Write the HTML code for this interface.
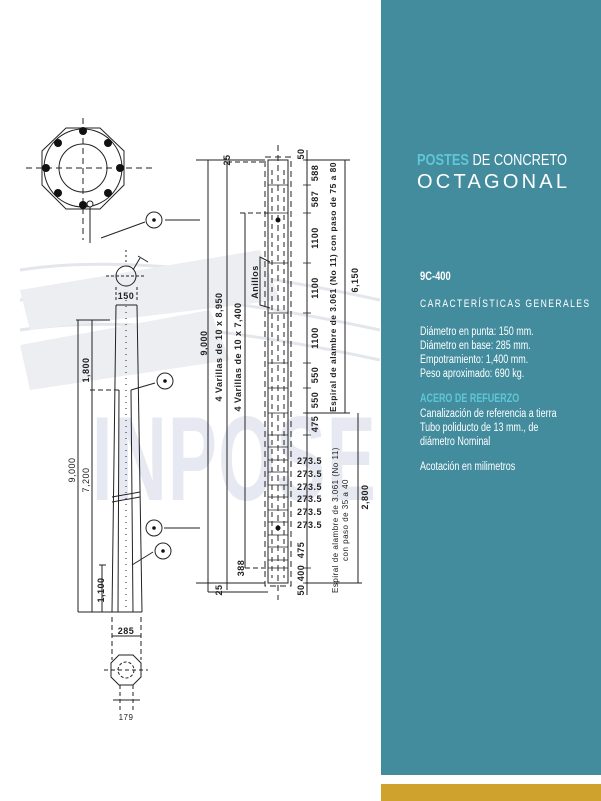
<!DOCTYPE html>
<html><head><meta charset="utf-8"><style>
html,body{margin:0;padding:0;background:#fff;}
body{width:601px;height:801px;position:relative;overflow:hidden;font-family:"Liberation Sans",sans-serif;}
.panel{position:absolute;left:381px;top:0;width:220px;height:775px;background:#438c9e;}
.gold{position:absolute;left:381px;top:784px;width:220px;height:17px;background:#cfa22e;}
.t{position:absolute;color:#fff;font-family:"Liberation Sans",sans-serif;white-space:nowrap;transform-origin:0 0;transform:scaleX(0.78);}
</style></head><body>
<svg width="601" height="801" style="position:absolute;left:0;top:0" font-family="Liberation Sans, sans-serif">
<g fill="#e6e9f1">
<text x="92" y="500" font-size="120" font-weight="bold" letter-spacing="2" textLength="285" lengthAdjust="spacingAndGlyphs">INPOSE</text>
</g>
<g stroke="#dde0e6" stroke-width="3" fill="none" opacity="0.8">
<path d="M20 270 Q150 250 380 300"/><path d="M20 300 Q150 280 380 330"/><path d="M20 330 Q150 310 380 360"/>
</g>
<g fill="#eceef2"><polygon points="20,290 260,250 280,300 30,330"/><polygon points="20,345 210,310 230,360 30,390"/></g>
<g stroke="#222" fill="none" stroke-width="1">
<polygon points="66,128 100,128 124,151 124,185 100,209 66,209 42,185 42,151"/>
<circle cx="83" cy="168" r="39"/>
<circle cx="83" cy="168" r="24"/>
<line x1="26" y1="168" x2="152" y2="168" stroke-dasharray="6,4"/>
<line x1="83" y1="118" x2="83" y2="240" stroke-dasharray="6,4"/>
<line x1="90" y1="206" x2="90" y2="243"/>
<line x1="101" y1="238" x2="145" y2="222"/>
<circle cx="154" cy="220" r="8"/>
<line x1="200" y1="220" x2="165" y2="220"/>
<line x1="126" y1="250" x2="126" y2="265" stroke-dasharray="2,3"/>
<circle cx="126" cy="276" r="10"/>
<line x1="106" y1="276" x2="146" y2="276" stroke-dasharray="3,2"/>
<line x1="133" y1="270" x2="140" y2="258"/><line x1="138" y1="256" x2="148" y2="262"/>
<line x1="116" y1="287" x2="116" y2="300" stroke-dasharray="3,2"/><line x1="137" y1="287" x2="137" y2="300" stroke-dasharray="3,2"/>
<polyline points="116,305 112,612"/>
<polyline points="137,305 142,612"/>
<line x1="116" y1="305" x2="137" y2="305"/>
<line x1="119" y1="390" x2="118" y2="612"/>
<line x1="131" y1="390" x2="133" y2="612"/>
<line x1="126" y1="300" x2="126" y2="612" stroke-dasharray="1,5"/>
<line x1="78" y1="320" x2="78" y2="612"/>
<line x1="76" y1="320" x2="110" y2="320"/>
<line x1="92" y1="320" x2="92" y2="612"/>
<line x1="90" y1="390" x2="120" y2="390" stroke-dasharray="5,3"/>
<line x1="102" y1="565" x2="102" y2="612"/><line x1="99" y1="565" x2="106" y2="565"/>
<line x1="78" y1="612" x2="142" y2="612"/>
<line x1="112" y1="497" x2="140" y2="492"/><line x1="112" y1="502" x2="140" y2="497"/>
<line x1="131" y1="390" x2="155" y2="383"/><circle cx="165" cy="381" r="8"/>
<line x1="132" y1="565" x2="153" y2="552"/><circle cx="163" cy="551" r="8"/>
<circle cx="154" cy="528" r="8"/><line x1="164" y1="528" x2="200" y2="528"/>
<line x1="112" y1="617" x2="112" y2="660" stroke-dasharray="5,3"/><line x1="141" y1="617" x2="141" y2="660" stroke-dasharray="5,3"/>
<line x1="112" y1="636" x2="141" y2="636"/>
<polygon points="119,655 133,655 141,663 141,677 133,685 119,685 111,677 111,663"/>
<circle cx="126" cy="670" r="8" stroke-dasharray="3,2"/>
<line x1="104" y1="670" x2="148" y2="670" stroke-dasharray="4,3"/>
<line x1="120" y1="685" x2="120" y2="710" stroke-dasharray="4,3"/><line x1="133" y1="685" x2="133" y2="710" stroke-dasharray="4,3"/>
<line x1="113" y1="700" x2="140" y2="700"/>
<rect x="268" y="160" width="20" height="423"/>
<rect x="265" y="157" width="26" height="429" stroke-dasharray="6,4"/>
<line x1="278" y1="145" x2="278" y2="600" stroke-dasharray="6,4"/>
<line x1="208" y1="160" x2="208" y2="592"/><line x1="196" y1="160" x2="265" y2="160"/>
<line x1="227" y1="162" x2="227" y2="590"/><line x1="227" y1="162" x2="265" y2="162" stroke-dasharray="5,3"/>
<line x1="245" y1="213" x2="245" y2="568"/><line x1="240" y1="213" x2="268" y2="213" stroke-dasharray="5,3"/>
<line x1="245" y1="568" x2="268" y2="568" stroke-dasharray="5,3"/>
<line x1="196" y1="583" x2="265" y2="583"/>
<line x1="208" y1="592" x2="268" y2="592"/>
<g stroke-width="0.8">
<line x1="268" y1="185" x2="288" y2="185"/><line x1="268" y1="213" x2="288" y2="213"/><line x1="268" y1="263" x2="288" y2="263"/><line x1="268" y1="313" x2="288" y2="313"/><line x1="268" y1="363" x2="288" y2="363"/><line x1="268" y1="388" x2="288" y2="388"/><line x1="268" y1="413" x2="288" y2="413"/><line x1="268" y1="435" x2="288" y2="435"/><line x1="268" y1="447" x2="288" y2="447"/><line x1="268" y1="460" x2="288" y2="460"/><line x1="268" y1="472" x2="288" y2="472"/><line x1="268" y1="485" x2="288" y2="485"/><line x1="268" y1="497" x2="288" y2="497"/><line x1="268" y1="510" x2="288" y2="510"/><line x1="268" y1="522" x2="288" y2="522"/><line x1="268" y1="535" x2="288" y2="535"/><line x1="268" y1="547" x2="288" y2="547"/><line x1="268" y1="560" x2="288" y2="560"/><line x1="268" y1="568" x2="288" y2="568"/>
</g>
<line x1="272" y1="170" x2="272" y2="578" stroke-dasharray="5,4"/><line x1="284" y1="170" x2="284" y2="578" stroke-dasharray="5,4"/>
<line x1="307" y1="150" x2="307" y2="595"/>
<g stroke-width="0.8"><line x1="303" y1="160" x2="311" y2="160"/><line x1="303" y1="185" x2="311" y2="185"/><line x1="303" y1="213" x2="311" y2="213"/><line x1="303" y1="263" x2="311" y2="263"/><line x1="303" y1="313" x2="311" y2="313"/><line x1="303" y1="363" x2="311" y2="363"/><line x1="303" y1="388" x2="311" y2="388"/><line x1="303" y1="413" x2="311" y2="413"/><line x1="303" y1="435" x2="311" y2="435"/><line x1="303" y1="568" x2="311" y2="568"/><line x1="303" y1="583" x2="311" y2="583"/></g>
<line x1="345" y1="160" x2="345" y2="413"/><line x1="305" y1="160" x2="350" y2="160"/><line x1="305" y1="413" x2="350" y2="413"/>
<line x1="358" y1="413" x2="358" y2="583"/><line x1="305" y1="583" x2="362" y2="583"/>
<polyline points="270,262 260,257 260,305 270,308"/>
</g>
<g fill="#111"><circle cx="83" cy="131" r="4"/><circle cx="83" cy="205" r="4"/><circle cx="46" cy="168" r="4"/><circle cx="120" cy="168" r="4"/><circle cx="58" cy="143" r="4"/><circle cx="108" cy="143" r="4"/><circle cx="58" cy="193" r="4"/><circle cx="108" cy="193" r="4"/><circle cx="154" cy="220" r="1.8"/><circle cx="165" cy="381" r="1.8"/><circle cx="163" cy="551" r="1.8"/><circle cx="154" cy="528" r="1.8"/><circle cx="278" cy="220" r="2.5"/><circle cx="278" cy="528" r="2.5"/></g>
<circle cx="90" cy="204" r="3" fill="#fff" stroke="#222"/>
<g fill="#222" font-size="9" font-weight="bold" letter-spacing="0.5">
<text x="126" y="299" text-anchor="middle">150</text>
<text x="126" y="634" text-anchor="middle">285</text>
<text x="126" y="720" text-anchor="middle" font-weight="normal" font-size="8">179</text>
<text transform="translate(89,370) rotate(-90)" text-anchor="middle">1,800</text>
<text transform="translate(75,470) rotate(-90)" text-anchor="middle" font-weight="normal">9,000</text>
<text transform="translate(89,480) rotate(-90)" text-anchor="middle" font-weight="normal">7,200</text>
<text transform="translate(104,590) rotate(-90)" text-anchor="middle">1,100</text>
<text transform="translate(207,343) rotate(-90)" text-anchor="middle">9,000</text>
<text transform="translate(222,347) rotate(-90)" text-anchor="middle">4 Varillas de 10 x 8,950</text>
<text transform="translate(241,357) rotate(-90)" text-anchor="middle">4 Varillas de 10 x 7,400</text>
<text transform="translate(258,282) rotate(-90)" text-anchor="middle">Anillos</text>
<text transform="translate(230,160) rotate(-90)" text-anchor="middle">25</text>
<text transform="translate(222,590) rotate(-90)" text-anchor="middle">25</text>
<text transform="translate(244,568) rotate(-90)" text-anchor="middle">388</text>
<text transform="translate(304,154) rotate(-90)" text-anchor="middle">50</text>
<text transform="translate(304,590) rotate(-90)" text-anchor="middle">50</text>
<text transform="translate(318,173) rotate(-90)" text-anchor="middle">588</text>
<text transform="translate(318,199) rotate(-90)" text-anchor="middle">587</text>
<text transform="translate(318,238) rotate(-90)" text-anchor="middle">1100</text>
<text transform="translate(318,288) rotate(-90)" text-anchor="middle">1100</text>
<text transform="translate(318,338) rotate(-90)" text-anchor="middle">1100</text>
<text transform="translate(318,375) rotate(-90)" text-anchor="middle">550</text>
<text transform="translate(318,400) rotate(-90)" text-anchor="middle">550</text>
<text transform="translate(318,424) rotate(-90)" text-anchor="middle">475</text>
<text transform="translate(304,550) rotate(-90)" text-anchor="middle">475</text>
<text transform="translate(304,573) rotate(-90)" text-anchor="middle">400</text>
<text x="297" y="464">273.5</text><text x="297" y="477">273.5</text><text x="297" y="490">273.5</text><text x="297" y="502">273.5</text><text x="297" y="515">273.5</text><text x="297" y="528">273.5</text>
<text transform="translate(336,287) rotate(-90)" text-anchor="middle" font-size="8.5" textLength="250" lengthAdjust="spacingAndGlyphs">Espiral de alambre de 3.061 (No 11) con paso de 75 a 80</text>
<text transform="translate(358,280) rotate(-90)" text-anchor="middle">6,150</text>
<text transform="translate(338,520) rotate(-90)" text-anchor="middle" font-weight="normal" font-size="8">Espiral de alambre de 3.061 (No 11)</text>
<text transform="translate(348,520) rotate(-90)" text-anchor="middle" font-weight="normal" font-size="8">con paso de 35 a 40</text>
<text transform="translate(368,497) rotate(-90)" text-anchor="middle">2,800</text>
</g>
</svg>
<div class="panel"></div>
<div class="gold"></div>
<svg width="220" height="300" style="position:absolute;left:381px;top:0" font-family="Liberation Sans, sans-serif">
<text x="36" y="165" font-size="16" fill="#fff" textLength="150" lengthAdjust="spacingAndGlyphs"><tspan fill="#5fc6d6" font-weight="bold">POSTES</tspan> DE CONCRETO</text>
<text x="36" y="188" font-size="20" fill="#fff" textLength="150" lengthAdjust="spacing">OCTAGONAL</text>
</svg>
<div class="t" style="left:420px;top:269px;font-size:12px;font-weight:bold;">9C-400</div>
<div class="t" style="left:420px;top:298px;font-size:11px;letter-spacing:1.8px;">CARACTERÍSTICAS GENERALES</div>
<div class="t" style="left:420px;top:325px;font-size:11.5px;line-height:14px;">Diámetro en punta: 150 mm.<br>Diámetro en base: 285 mm.<br>Empotramiento: 1,400 mm.<br>Peso aproximado: 690 kg.</div>
<div class="t" style="left:420px;top:393px;font-size:11.5px;font-weight:bold;color:#5fc6d6;">ACERO DE REFUERZO</div>
<div class="t" style="left:420px;top:407px;font-size:11.5px;line-height:14px;">Canalización de referencia a tierra<br>Tubo poliducto de 13 mm., de<br>diámetro Nominal</div>
<div class="t" style="left:420px;top:461px;font-size:11.5px;">Acotación en milimetros</div>
</body></html>
